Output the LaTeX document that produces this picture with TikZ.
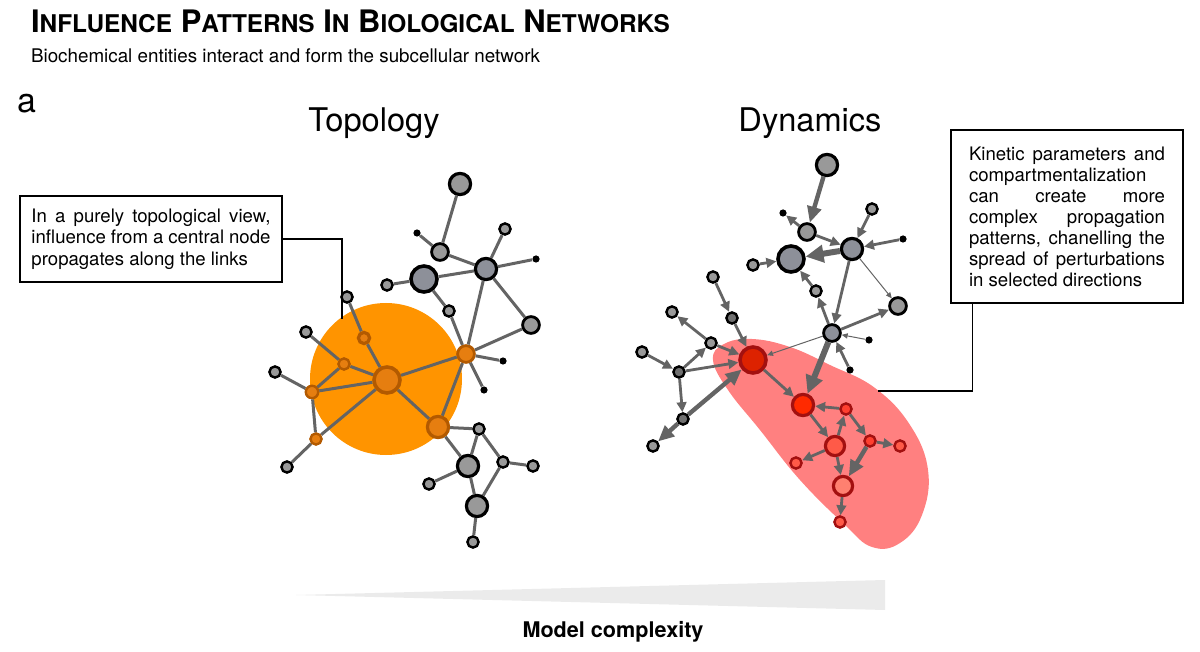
\documentclass[tikz,border=0pt]{standalone}
\usepackage{fontspec}
\setmainfont{TeX Gyre Heros}
\usetikzlibrary{arrows.meta}
\definecolor{nodegray}{HTML}{999999}
\definecolor{bluegray}{HTML}{8D9099}
\definecolor{nodedark}{HTML}{707070}
\definecolor{edgegray}{HTML}{646464}
\definecolor{discorange}{HTML}{FF9400}
\definecolor{nodeorange}{HTML}{E67E10}
\definecolor{rimorange}{HTML}{B35A00}
\definecolor{blobred}{HTML}{FF8080}
\definecolor{rimred}{HTML}{A31010}
\definecolor{redA}{HTML}{DD2200}
\definecolor{redB}{HTML}{FF2A00}
\definecolor{redC}{HTML}{FF5A48}
\definecolor{redD}{HTML}{FF8070}
\definecolor{redE}{HTML}{FF4030}
\definecolor{wedgegray}{HTML}{EBEBEB}
\newcommand{\capword}[2]{{\fontsize{15.5}{18}\selectfont #1}{\fontsize{12.2}{14}\selectfont #2}}

\begin{document}
\begin{tikzpicture}[
  x=0.5pt, y=-0.5pt,
  gnode/.style={circle, draw=black, fill=nodegray, inner sep=0pt},
  onode/.style={circle, draw=rimorange, fill=nodeorange, inner sep=0pt},
  rnode/.style={circle, draw=rimred, fill=redC, inner sep=0pt},
  tinydot/.style={circle, fill=black, inner sep=0pt, minimum size=3.6pt},
  nsmall/.style={minimum size=5.6pt, line width=1.2pt},
  nmid/.style={minimum size=8.4pt, line width=1.4pt},
  nlarge/.style={minimum size=10.6pt, line width=1.6pt},
  nhuge/.style={minimum size=13pt, line width=1.8pt},
  link/.style={draw=edgegray, line width=1.5pt},
  thin/.style={draw=edgegray, line width=0.5pt, -{Triangle[length=3pt,width=2.6pt]}},
  flow/.style={draw=edgegray, line width=1.4pt, -{Triangle[length=5pt,width=4.8pt]}},
  thick/.style={draw=edgegray, line width=2.2pt, -{Triangle[length=8pt,width=7pt]}},
  heavy/.style={draw=edgegray, line width=3pt, -{Triangle[length=9pt,width=8.5pt]}},
  note/.style={draw=black, line width=0.6pt},
  textbox/.style={draw=black, line width=0.7pt, inner sep=0pt, align=justify, font=\fontsize{9.3}{10.8}\selectfont}
]
\useasboundingbox (0,0) rectangle (1200,652);

% Headings
\node[anchor=base west, font=\bfseries\fontsize{15.5}{18}\selectfont] (title) at (24,33)
  {\capword{I}{NFLUENCE} \capword{P}{ATTERNS} \capword{I}{N} \capword{B}{IOLOGICAL} \capword{N}{ETWORKS}};
\node[anchor=base west, font=\fontsize{9.4}{11}\selectfont] (subtitle) at (24,63)
  {Biochemical entities interact and form the subcellular network};
\node[anchor=base west, font=\fontsize{17}{20}\selectfont] (panel) at (10,113) {a};
\node[anchor=base, font=\fontsize{16.3}{19}\selectfont] (topotitle) at (374,132) {Topology};
\node[anchor=base, font=\fontsize{16.3}{19}\selectfont] (dyntitle) at (810,132) {Dynamics};

% Backgrounds
\node[circle, fill=discorange, inner sep=0pt, minimum size=76pt] (halo) at (386,379) {};
\fill[blobred] plot[smooth cycle, tension=0.7] coordinates {(713,360) (724,344) (752,339) (790,347)
  (830,365) (875,388) (910,425) (928,470) (922,515) (900,543) (872,547) (845,525) (800,480)
  (760,430) (728,390)};
\fill[wedgegray] (296,595) -- (885,580) -- (885,610) -- cycle;
\node[anchor=base, font=\bfseries\fontsize{10.8}{13}\selectfont] (complexity) at (613,637) {Model complexity};

% Topology network
\node[gnode, nlarge] (t1) at (460,184) {};
\node[tinydot] (t2) at (417,233) {};
\node[gnode, nmid] (t3) at (440,252) {};
\node[gnode, nsmall] (t4) at (505,229) {};
\node[gnode, nlarge, fill=bluegray] (t5) at (486,269) {};
\node[tinydot] (t6) at (536,259) {};
\node[gnode, nhuge, fill=bluegray] (t7) at (424,279) {};
\node[gnode, nsmall] (t8) at (387,285) {};
\node[gnode, nsmall] (t9) at (449,311) {};
\node[gnode, nmid] (t10) at (531,325) {};
\node[gnode, nsmall] (t11) at (347,297) {};
\node[gnode, nsmall] (t12) at (306,332) {};
\node[onode, nsmall, line width=1.6pt] (t13) at (364,338) {};
\node[onode, nmid] (t14) at (466,354) {};
\node[tinydot] (t15) at (503,361) {};
\node[tinydot] (t16) at (484,390) {};
\node[onode, nsmall] (t17) at (344,364) {};
\node[gnode, nsmall] (t18) at (275,372) {};
\node[onode, nsmall, minimum size=6.2pt] (t19) at (312,392) {};
\node[onode, nsmall] (t20) at (316,439) {};
\node[gnode, nsmall] (t21) at (287,467) {};
\node[onode, nhuge] (hub) at (387,380) {};
\node[onode, nlarge] (t22) at (438,427) {};
\node[gnode, nsmall] (t23) at (479,429) {};
\node[gnode, nlarge] (t24) at (468,466) {};
\node[gnode, nsmall] (t25) at (503,462) {};
\node[gnode, nsmall] (t26) at (533,466) {};
\node[gnode, nsmall] (t27) at (429,484) {};
\node[gnode, nlarge] (t28) at (477,506) {};
\node[gnode, nsmall] (t29) at (473,542) {};
\draw[link] (t1) -- (t3);
\draw[link] (t2) -- (t3);
\draw[link] (t3) -- (t5);
\draw[link] (t4) -- (t5);
\draw[link] (t6) -- (t5);
\draw[link] (t7) -- (t5);
\draw[link] (t8) -- (t7);
\draw[link] (t7) -- (t9);
\draw[link] (t5) -- (t14);
\draw[link] (t5) -- (t10);
\draw[link] (t10) -- (t14);
\draw[link] (t9) -- (t14);
\draw[link] (t11) -- (t13);
\draw[link] (t13) -- (hub);
\draw[link] (t12) -- (t17);
\draw[link] (t17) -- (hub);
\draw[link] (t17) -- (t19);
\draw[link] (t18) -- (t19);
\draw[link] (t19) -- (hub);
\draw[link] (t19) -- (t20);
\draw[link] (t20) -- (hub);
\draw[link] (t21) -- (t20);
\draw[link] (hub) -- (t14);
\draw[link] (hub) -- (t22);
\draw[link] (t14) -- (t15);
\draw[link] (t14) -- (t16);
\draw[link] (t14) -- (t22);
\draw[link] (t22) -- (t23);
\draw[link] (t22) -- (t24);
\draw[link] (t23) -- (t24);
\draw[link] (t23) -- (t25);
\draw[link] (t25) -- (t26);
\draw[link] (t25) -- (t28);
\draw[link] (t27) -- (t24);
\draw[link] (t24) -- (t28);
\draw[link] (t28) -- (t29);

% Dynamics network
\node[gnode, nlarge] (d1) at (827,165) {};
\node[tinydot] (d2) at (783,213) {};
\node[gnode, nmid] (d3) at (807,232) {};
\node[gnode, nsmall] (d4) at (872,209) {};
\node[tinydot] (d5) at (903,239) {};
\node[gnode, nlarge, fill=bluegray] (d6) at (852,249) {};
\node[gnode, nhuge, fill=bluegray] (d7) at (791,259) {};
\node[gnode, nsmall] (d8) at (753,265) {};
\node[gnode, nsmall] (d9) at (816,291) {};
\node[gnode, nmid] (d10) at (898,306) {};
\node[gnode, nsmall] (d11) at (713,277) {};
\node[gnode, nsmall] (d12) at (672,312) {};
\node[gnode, nsmall, fill=nodedark] (d13) at (732,318) {};
\node[gnode, nmid, fill=bluegray] (d14) at (832,333) {};
\node[tinydot] (d15) at (869,340) {};
\node[gnode, nsmall] (d16) at (711,343) {};
\node[gnode, nsmall] (d17) at (642,352) {};
\node[rnode, nhuge, fill=redA] (src) at (753,360) {};
\node[tinydot] (d19) at (850,370) {};
\node[gnode, nsmall, fill=nodedark] (d20) at (679,372) {};
\node[gnode, nsmall, fill=nodedark] (d21) at (683,419) {};
\node[gnode, nsmall] (d22) at (653,446) {};
\node[rnode, nlarge, fill=redB] (r1) at (803,405) {};
\node[rnode, nsmall, fill=redE] (r2) at (846,409) {};
\node[rnode, nlarge, minimum size=9.6pt, fill=redC] (r3) at (835,446) {};
\node[rnode, nsmall, fill=redE] (r4) at (870,441) {};
\node[rnode, nsmall] (r5) at (900,446) {};
\node[rnode, nsmall] (r6) at (796,463) {};
\node[rnode, nlarge, minimum size=9.6pt, fill=redD] (r7) at (843,486) {};
\node[rnode, nsmall] (r8) at (840,522) {};
\draw[thick] (d1) -- (d3);
\draw[flow] (d3) -- (d2);
\draw[flow] (d3) -- (d6);
\draw[flow] (d4) -- (d6);
\draw[flow] (d5) -- (d6);
\draw[heavy] (d6) -- (d7);
\draw[flow] (d8) -- (d7);
\draw[flow] (d9) -- (d7);
\draw[thin] (d6) -- (d10);
\draw[flow] (d6) -- (d14);
\draw[flow] (d14) -- (d9);
\draw[flow] (d14) -- (d10);
\draw[thin] (d15) -- (d14);
\draw[flow] (d19) -- (d14);
\draw[thin] (d14) -- (src);
\draw[heavy] (d14) -- (r1);
\draw[flow] (d11) -- (d13);
\draw[flow] (d13) -- (src);
\draw[flow] (d16) -- (d12);
\draw[flow] (d16) -- (src);
\draw[flow] (d20) -- (d16);
\draw[flow] (d17) -- (d20);
\draw[flow] (d20) -- (src);
\draw[flow] (d20) -- (d21);
\draw[thick] (d21) -- (src);
\draw[thick] (d21) -- (d22);
\draw[flow] (src) -- (r1);
\draw[flow] (r2) -- (r1);
\draw[flow] (r1) -- (r3);
\draw[flow] (r3) -- (r2);
\draw[flow] (r2) -- (r4);
\draw[flow] (r4) -- (r5);
\draw[thick] (r4) -- (r7);
\draw[flow] (r3) -- (r6);
\draw[flow] (r3) -- (r7);
\draw[flow] (r7) -- (r8);

% Annotations
\node[textbox, text width=119.5pt, minimum width=131pt, minimum height=43pt] (topobox) at (151,239)
  {In a purely topological view,\linebreak influence from a central node\linebreak propagates along the links};
\coordinate (topoend) at (342,319);
\draw[note] (topobox.east) -| (topoend);
\node[textbox, font=\fontsize{9.3}{10.5}\selectfont, text width=98pt, minimum width=116pt, minimum height=86.5pt] (dynbox) at (1067,216.5)
  {Kinetic parameters and\linebreak compartmentalization\linebreak can create more\linebreak complex propagation\linebreak patterns, chanelling the\linebreak spread of perturbations\linebreak in selected directions};
\coordinate (dynend) at (878,391);
\draw[note] ([xshift=11pt]dynbox.south west) |- (dynend);
\end{tikzpicture}
\end{document}
